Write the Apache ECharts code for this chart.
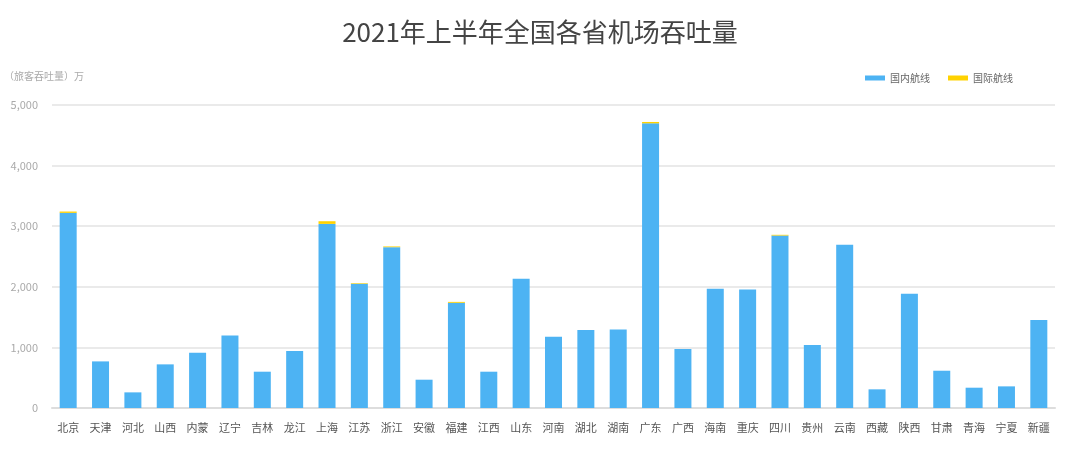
<!DOCTYPE html>
<html><head><meta charset="utf-8">
<script src="https://cdn.jsdelivr.net/npm/echarts@6/dist/echarts.min.js"></script>
<style>html,body{margin:0;padding:0;background:#fff}#c{width:1080px;height:467px}</style>
</head><body><div id="c"></div>
<script>
const provinces=['北京','天津','河北','山西','内蒙','辽宁','吉林','龙江','上海','江苏','浙江','安徽','福建','江西','山东','河南','湖北','湖南','广东','广西','海南','重庆','四川','贵州','云南','西藏','陕西','甘肃','青海','宁夏','新疆'];
const domestic=[3220,769,258,720,912,1198,599,940,3038,2049,2654,467,1736,599,2132,1176,1286,1297,4698,973,1967,1956,2846,1038,2692,308,1885,615,335,357,1451];
const international=[22,0,0,0,0,0,0,0,44,10,12,0,15,0,0,0,0,0,22,0,0,0,12,0,0,0,0,0,0,0,0];
const font='"Noto Sans CJK SC","Noto Sans",sans-serif';
const chart=echarts.init(document.getElementById('c'));
chart.setOption({
  animation:false,
  textStyle:{fontFamily:font},
  title:{text:'2021年上半年全国各省机场吞吐量',left:'center',top:14,textStyle:{fontSize:26,fontWeight:'normal',color:'#444',fontFamily:font}},
  legend:{top:68,right:62,itemWidth:20,itemHeight:5,itemGap:18,icon:'rect',textStyle:{fontSize:10,color:'#666'},data:['国内航线','国际航线']},
  grid:{left:52,right:25,top:105,bottom:59},
  xAxis:{type:'category',data:provinces,axisTick:{show:false},axisLine:{lineStyle:{color:'#ddd',width:2}},axisLabel:{color:'#555',fontSize:11,margin:14,interval:0}},
  yAxis:{type:'value',min:0,max:5000,interval:1000,name:'（旅客吞吐量）万',nameLocation:'end',nameGap:24,nameTextStyle:{color:'#aaa',fontSize:10,align:'left',padding:[0,0,0,-48]},
    axisLine:{show:false},axisTick:{show:false},axisLabel:{color:'#aaa',fontSize:11,margin:14,formatter:v=>v.toLocaleString('en-US')},splitLine:{lineStyle:{color:'#e3e3e3',width:1.5}}},
  series:[
    {name:'国内航线',type:'bar',stack:'a',data:domestic,barWidth:17,itemStyle:{color:'#4db3f3'}},
    {name:'国际航线',type:'bar',stack:'a',data:international,barWidth:17,itemStyle:{color:'#ffd200'}}
  ]
});
</script></body></html>
